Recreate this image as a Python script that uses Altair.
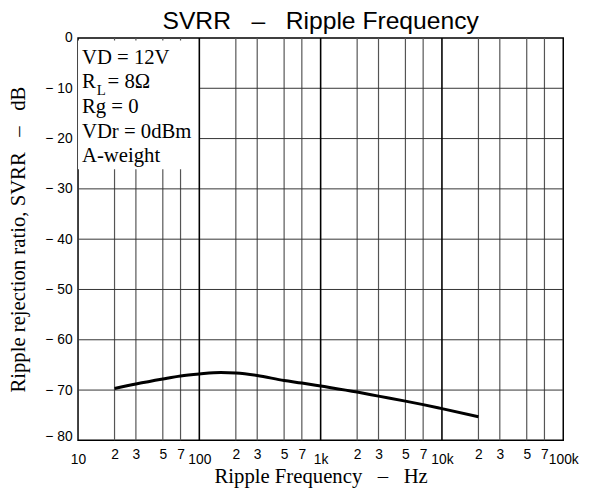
import altair as alt
import pandas as pd

# ---- data ----
freq = [20, 30, 50, 70, 100, 150, 200, 300, 500, 700, 1000, 2000, 3000, 5000, 7000, 10000, 20000]
svrr = [-69.7, -68.8, -67.8, -67.2, -66.8, -66.5, -66.6, -67.1, -68.1, -68.6, -69.2, -70.4, -71.2, -72.2, -72.9, -73.7, -75.3]

grid_minor = [20, 30, 50, 70, 200, 300, 500, 700, 2000, 3000, 5000, 7000, 20000, 30000, 50000, 70000]
grid_major = [100, 1000, 10000]
grid_h = [-10, -20, -30, -40, -50, -60, -70]

x_tick_values = [10, 20, 30, 50, 70, 100, 200, 300, 500, 700, 1000, 2000, 3000, 5000, 7000,
                 10000, 20000, 30000, 50000, 70000, 100000]
x_tick_labels = ["10", "2", "3", "5", "7", "100", "2", "3", "5", "7", "1k", "2", "3", "5", "7",
                 "10k", "2", "3", "5", "7", "100k"]
x_decades = [10, 100, 1000, 10000, 100000]
y_tick_values = [0, -10, -20, -30, -40, -50, -60, -70, -80]

legend_lines = ["VD = 12V", "R", "Rg = 0", "VDr = 0dBm", "A-weight"]
legend_sub = "L"
legend_rl_rest = "= 8Ω"

NB = "\u00a0"
title_text = "SVRR" + NB * 3 + "–" + NB * 3 + "Ripple Frequency"
x_title = "Ripple Frequency" + NB * 3 + "–" + NB * 3 + "Hz"
y_title = "Ripple rejection ratio, SVRR" + NB * 3 + "–" + NB * 3 + "dB"

W, H = 492, 408
xscale = alt.Scale(type="log", domain=[10, 100000], nice=False)
yscale = alt.Scale(domain=[-80, 0], nice=False)

vals_js = "[" + ",".join(str(v) for v in x_tick_values) + "]"
labs_js = "[" + ",".join("'" + s + "'" for s in x_tick_labels) + "]"
dec_js = "[" + ",".join(str(v) for v in x_decades) + "]"

df_curve = pd.DataFrame({"f": freq, "v": svrr})
df_minor = pd.DataFrame({"f": grid_minor})
df_major = pd.DataFrame({"f": grid_major})
df_h = pd.DataFrame({"v": grid_h})
one = pd.DataFrame({"a": [0]})

x_axis = alt.Axis(values=x_tick_values,
                  labelExpr=labs_js + "[indexof(" + vals_js + ", datum.value)]",
                  grid=False, ticks=False, domain=False,
                  labelFlush=False, labelOverlap=False, labelBound=False,
                  labelFont="Liberation Sans", labelFontSize=14, labelColor="black",
                  labelBaseline="top",
                  labelPadding={"condition": {"test": "indexof(" + dec_js + ", datum.value) >= 0",
                                              "value": 12}, "value": 7},
                  title=x_title, titleFont="Liberation Serif", titleFontSize=21,
                  titleFontWeight="normal", titleColor="black",
                  titleX=W / 2, titleY=43, titleBaseline="alphabetic", titleAlign="center")
y_axis = alt.Axis(values=y_tick_values,
                  labelExpr="datum.value == 0 ? '0' : '\u2212 ' + abs(datum.value)",
                  grid=False, ticks=False, domain=False,
                  labelFont="Liberation Sans", labelFontSize=14, labelColor="black",
                  labelPadding=6, labelOverlap=False, labelFlush=False, labelBound=False,
                  labelBaseline={"condition": {"test": "datum.value == -80", "value": "alphabetic"},
                                 "value": "middle"},
                  title=y_title, titleFont="Liberation Serif", titleFontSize=21,
                  titleFontWeight="normal", titleColor="black",
                  titleX=-54, titleY=H / 2, titleAngle=270, titleBaseline="alphabetic",
                  titleAlign="center")

minor = alt.Chart(df_minor).mark_rule(color="#555555", strokeWidth=1.2).encode(
    x=alt.X("f:Q", scale=xscale, axis=x_axis))
hlines = alt.Chart(df_h).mark_rule(color="#333333", strokeWidth=1).encode(
    y=alt.Y("v:Q", scale=yscale, axis=y_axis))
box = alt.Chart(one).mark_rect(color="white").encode(
    x=alt.value(0), x2=alt.value(123), y=alt.value(2.5), y2=alt.value(133))
major = alt.Chart(df_major).mark_rule(color="black", strokeWidth=1.6).encode(
    x=alt.X("f:Q", scale=xscale))

curve = alt.Chart(df_curve).mark_line(color="black", strokeWidth=3, interpolate="monotone").encode(
    x=alt.X("f:Q", scale=xscale),
    y=alt.Y("v:Q", scale=yscale),
)

legend_main = alt.Chart(pd.DataFrame({"t": ["\n".join(legend_lines)]})).mark_text(
    align="left", baseline="alphabetic", font="Liberation Serif", fontSize=21,
    lineBreak="\n", lineHeight=25, color="black").encode(
    x=alt.value(4), y=alt.value(26), text="t:N")
legend_l = alt.Chart(pd.DataFrame({"t": [legend_sub]})).mark_text(
    align="left", baseline="alphabetic", font="Liberation Serif", fontSize=15, color="black").encode(
    x=alt.value(19), y=alt.value(58), text="t:N")
legend_rest = alt.Chart(pd.DataFrame({"t": [legend_rl_rest]})).mark_text(
    align="left", baseline="alphabetic", font="Liberation Serif", fontSize=21, color="black").encode(
    x=alt.value(30), y=alt.value(51), text="t:N")

title_mark = alt.Chart(pd.DataFrame({"t": [title_text]})).mark_text(
    align="center", baseline="alphabetic", font="Liberation Sans", fontSize=25, color="black").encode(
    x=alt.value(W / 2), y=alt.value(-9), text="t:N")

chart = alt.layer(minor, hlines, box, major, curve, legend_main, legend_l, legend_rest,
                  title_mark).properties(
    width=W, height=H,
    autosize=alt.AutoSizeParams(type="none"),
    padding={"left": 71, "top": 27, "right": 18, "bottom": 52},
).configure_view(stroke="black", strokeWidth=1.5)

chart.save("out.html", embed_options={"renderer": "svg", "actions": False})
